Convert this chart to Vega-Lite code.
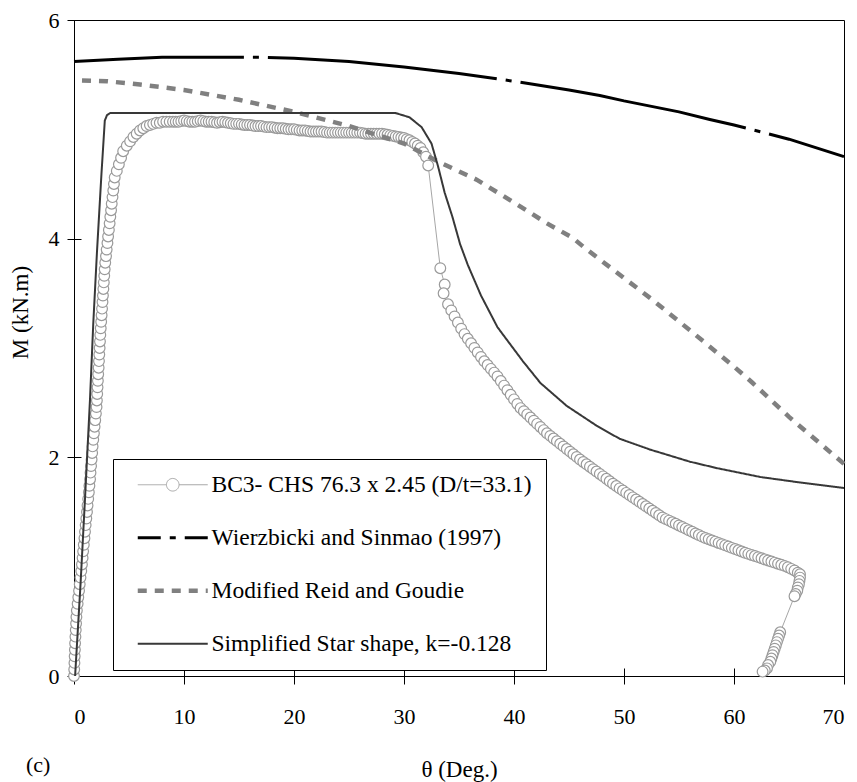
{
"$schema": "https://vega.github.io/schema/vega-lite/v6.json",
"width": 770, "height": 656,
"autosize": {"type": "none"},
"padding": {"left": 74, "top": 20, "right": 13, "bottom": 106},
"background": "white",
"view": {"stroke": "black", "strokeWidth": 1},
"config": {
  "font": "Liberation Serif",
  "axis": {"domainColor": "black", "tickColor": "black", "labelColor": "black", "titleColor": "black", "labelFont": "Liberation Serif", "titleFont": "Liberation Serif", "labelFontSize": 22, "titleFontSize": 23, "titleFontWeight": "normal", "grid": false, "domainWidth": 1, "tickWidth": 1},
  "legend": {"labelFont": "Liberation Serif"}
},
"resolve": {"axis": {"x": "independent", "y": "independent"}},
"title": {"text": "(c)", "orient": "bottom", "anchor": "start", "frame": "group", "dx": -48, "offset": -26, "font": "Liberation Serif", "fontSize": 22, "fontWeight": "normal", "color": "black"},
"datasets": {
  "exp": [
    {"x":0,"m":0},{"x":0.02,"m":0.06},{"x":0.04,"m":0.12},{"x":0.06,"m":0.18},{"x":0.08,"m":0.24},{"x":0.1,"m":0.3},{"x":0.13,"m":0.36},{"x":0.16,"m":0.42},{"x":0.19,"m":0.48},{"x":0.22,"m":0.54},{"x":0.26,"m":0.6},{"x":0.33,"m":0.66},{"x":0.39,"m":0.72},{"x":0.46,"m":0.78},{"x":0.52,"m":0.84},{"x":0.59,"m":0.9},{"x":0.66,"m":0.96},{"x":0.72,"m":1.02},{"x":0.78,"m":1.08},{"x":0.83,"m":1.14},{"x":0.89,"m":1.2},{"x":0.95,"m":1.26},{"x":1.0,"m":1.32},{"x":1.06,"m":1.38},{"x":1.12,"m":1.44},{"x":1.18,"m":1.5},{"x":1.23,"m":1.56},{"x":1.29,"m":1.62},{"x":1.35,"m":1.68},{"x":1.4,"m":1.74},{"x":1.46,"m":1.8},{"x":1.5,"m":1.86},{"x":1.55,"m":1.92},{"x":1.6,"m":1.98},{"x":1.65,"m":2.04},{"x":1.69,"m":2.1},{"x":1.75,"m":2.16},{"x":1.81,"m":2.22},{"x":1.87,"m":2.28},{"x":1.93,"m":2.34},{"x":1.99,"m":2.4},{"x":2.05,"m":2.46},{"x":2.08,"m":2.52},{"x":2.11,"m":2.58},{"x":2.14,"m":2.64},{"x":2.17,"m":2.7},{"x":2.2,"m":2.76},{"x":2.24,"m":2.82},{"x":2.27,"m":2.88},{"x":2.3,"m":2.94},{"x":2.33,"m":3.0},{"x":2.36,"m":3.06},{"x":2.39,"m":3.12},{"x":2.43,"m":3.18},{"x":2.47,"m":3.24},{"x":2.51,"m":3.3},{"x":2.55,"m":3.36},{"x":2.59,"m":3.42},{"x":2.63,"m":3.48},{"x":2.67,"m":3.54},{"x":2.71,"m":3.6},{"x":2.75,"m":3.66},{"x":2.79,"m":3.72},{"x":2.84,"m":3.78},{"x":2.91,"m":3.84},{"x":2.97,"m":3.9},{"x":3.04,"m":3.96},{"x":3.1,"m":4.02},{"x":3.17,"m":4.08},{"x":3.24,"m":4.14},{"x":3.3,"m":4.2},{"x":3.37,"m":4.26},{"x":3.43,"m":4.32},{"x":3.5,"m":4.38},{"x":3.57,"m":4.44},{"x":3.63,"m":4.5},{"x":3.7,"m":4.56},{"x":3.89,"m":4.62},{"x":4.08,"m":4.68},{"x":4.28,"m":4.74},{"x":4.47,"m":4.8},
    {"x":4.8,"m":4.85},{"x":5.1,"m":4.89},{"x":5.4,"m":4.93},{"x":5.7,"m":4.96},{"x":6.0,"m":4.99},{"x":6.3,"m":5.01},{"x":6.6,"m":5.03},{"x":6.9,"m":5.04},{"x":7.2,"m":5.05},{"x":7.5,"m":5.06},{"x":7.8,"m":5.06},{"x":8.1,"m":5.07},{"x":8.4,"m":5.07},{"x":8.7,"m":5.07},
    {"x":9.0,"m":5.07},{"x":9.25,"m":5.07},{"x":9.5,"m":5.07},{"x":9.75,"m":5.075},{"x":10,"m":5.08},{"x":10.25,"m":5.075},{"x":10.5,"m":5.07},{"x":10.75,"m":5.07},{"x":11,"m":5.07},{"x":11.25,"m":5.075},{"x":11.5,"m":5.08},{"x":11.75,"m":5.075},{"x":12,"m":5.07},{"x":12.25,"m":5.07},{"x":12.5,"m":5.07},{"x":12.75,"m":5.065},{"x":13,"m":5.06},{"x":13.25,"m":5.065},{"x":13.5,"m":5.07},{"x":13.75,"m":5.065},{"x":14,"m":5.06},{"x":14.25,"m":5.055},{"x":14.5,"m":5.05},{"x":14.75,"m":5.05},{"x":15,"m":5.05},{"x":15.25,"m":5.045},{"x":15.5,"m":5.04},{"x":15.75,"m":5.04},{"x":16,"m":5.04},{"x":16.25,"m":5.035},{"x":16.5,"m":5.03},{"x":16.75,"m":5.03},{"x":17,"m":5.03},{"x":17.25,"m":5.025},{"x":17.5,"m":5.02},{"x":17.75,"m":5.02},{"x":18,"m":5.02},{"x":18.25,"m":5.015},{"x":18.5,"m":5.01},{"x":18.75,"m":5.01},{"x":19,"m":5.01},{"x":19.25,"m":5.005},{"x":19.5,"m":5.0},{"x":19.75,"m":5.0},{"x":20,"m":5.0},{"x":20.25,"m":4.995},{"x":20.5,"m":4.99},{"x":20.75,"m":4.99},{"x":21,"m":4.99},{"x":21.25,"m":4.985},{"x":21.5,"m":4.98},{"x":21.75,"m":4.98},{"x":22,"m":4.98},{"x":22.25,"m":4.98},{"x":22.5,"m":4.98},{"x":22.75,"m":4.975},{"x":23,"m":4.97},{"x":23.25,"m":4.97},{"x":23.5,"m":4.97},{"x":23.75,"m":4.97},{"x":24,"m":4.97},{"x":24.25,"m":4.97},{"x":24.5,"m":4.97},{"x":24.75,"m":4.97},{"x":25,"m":4.97},{"x":25.25,"m":4.97},{"x":25.5,"m":4.97},{"x":25.75,"m":4.97},{"x":26,"m":4.97},{"x":26.25,"m":4.965},{"x":26.5,"m":4.96},{"x":26.75,"m":4.96},{"x":27,"m":4.96},{"x":27.25,"m":4.96},{"x":27.5,"m":4.96},{"x":27.75,"m":4.96},{"x":28,"m":4.96},{"x":28.25,"m":4.955},{"x":28.5,"m":4.95},{"x":28.75,"m":4.945},{"x":29,"m":4.94},{"x":29.25,"m":4.935},{"x":29.5,"m":4.93},{"x":29.75,"m":4.925},{"x":30,"m":4.92},{"x":30.25,"m":4.91},{"x":30.5,"m":4.9},{"x":30.75,"m":4.885},{"x":31,"m":4.87},{"x":31.25,"m":4.85},{"x":31.5,"m":4.83},{"x":31.75,"m":4.79},{"x":32,"m":4.75},{"x":32.2,"m":4.67},
    {"x":33.3,"m":3.73},{"x":33.7,"m":3.58},{"x":33.6,"m":3.5},
    {"x":34.0,"m":3.4},{"x":34.3,"m":3.344},{"x":34.6,"m":3.289},{"x":34.9,"m":3.233},{"x":35.2,"m":3.177},{"x":35.5,"m":3.127},{"x":35.8,"m":3.084},{"x":36.1,"m":3.043},{"x":36.4,"m":3.001},{"x":36.7,"m":2.959},{"x":37.0,"m":2.918},{"x":37.3,"m":2.878},{"x":37.6,"m":2.844},{"x":37.9,"m":2.809},{"x":38.2,"m":2.775},{"x":38.5,"m":2.74},{"x":38.8,"m":2.698},{"x":39.1,"m":2.656},{"x":39.4,"m":2.614},{"x":39.7,"m":2.572},{"x":40.0,"m":2.53},{"x":40.3,"m":2.488},{"x":40.6,"m":2.45},{"x":40.9,"m":2.422},{"x":41.2,"m":2.393},{"x":41.5,"m":2.364},{"x":41.8,"m":2.335},{"x":42.1,"m":2.306},{"x":42.4,"m":2.278},{"x":42.7,"m":2.249},{"x":43.0,"m":2.22},{"x":43.3,"m":2.196},{"x":43.6,"m":2.172},{"x":43.9,"m":2.148},{"x":44.2,"m":2.124},{"x":44.5,"m":2.1},{"x":44.8,"m":2.076},{"x":45.1,"m":2.052},{"x":45.4,"m":2.028},{"x":45.7,"m":2.004},{"x":46.0,"m":1.98},{"x":46.3,"m":1.958},{"x":46.6,"m":1.936},{"x":46.9,"m":1.914},{"x":47.2,"m":1.892},{"x":47.5,"m":1.87},{"x":47.8,"m":1.848},{"x":48.1,"m":1.826},{"x":48.4,"m":1.804},{"x":48.7,"m":1.781},{"x":49.0,"m":1.759},{"x":49.3,"m":1.737},{"x":49.6,"m":1.716},{"x":49.9,"m":1.696},{"x":50.2,"m":1.675},{"x":50.5,"m":1.655},{"x":50.8,"m":1.634},{"x":51.1,"m":1.614},{"x":51.4,"m":1.593},{"x":51.7,"m":1.573},{"x":52.0,"m":1.552},{"x":52.3,"m":1.532},{"x":52.6,"m":1.511},{"x":52.9,"m":1.491},{"x":53.2,"m":1.47},{"x":53.5,"m":1.45},{"x":53.8,"m":1.435},{"x":54.1,"m":1.421},{"x":54.4,"m":1.406},{"x":54.7,"m":1.392},{"x":55.0,"m":1.377},{"x":55.3,"m":1.362},{"x":55.6,"m":1.348},{"x":55.9,"m":1.333},{"x":56.2,"m":1.319},{"x":56.5,"m":1.304},{"x":56.8,"m":1.289},{"x":57.1,"m":1.275},{"x":57.4,"m":1.262},{"x":57.7,"m":1.251},{"x":58.0,"m":1.24},{"x":58.3,"m":1.229},{"x":58.6,"m":1.217},{"x":58.9,"m":1.206},{"x":59.2,"m":1.195},{"x":59.5,"m":1.184},{"x":59.8,"m":1.172},{"x":60.1,"m":1.161},{"x":60.4,"m":1.15},{"x":60.7,"m":1.139},{"x":61.0,"m":1.127},{"x":61.3,"m":1.117},{"x":61.6,"m":1.107},{"x":61.9,"m":1.097},{"x":62.2,"m":1.087},{"x":62.5,"m":1.077},{"x":62.8,"m":1.067},{"x":63.1,"m":1.057},{"x":63.4,"m":1.047},{"x":63.7,"m":1.037},{"x":64.0,"m":1.027},{"x":64.3,"m":1.017},{"x":64.6,"m":1.007},{"x":64.9,"m":0.995},{"x":65.2,"m":0.98},{"x":65.5,"m":0.965},{"x":65.8,"m":0.945},{"x":66.0,"m":0.93},
    {"x":66.0,"m":0.9},{"x":65.95,"m":0.87},{"x":65.9,"m":0.84},{"x":65.8,"m":0.81},{"x":65.75,"m":0.78},{"x":65.6,"m":0.75},{"x":65.5,"m":0.73},
    {"x":64.2,"m":0.4},{"x":64.1,"m":0.37},{"x":64.0,"m":0.34},{"x":63.9,"m":0.31},{"x":63.8,"m":0.28},{"x":63.7,"m":0.25},{"x":63.6,"m":0.22},{"x":63.5,"m":0.19},{"x":63.4,"m":0.16},{"x":63.3,"m":0.13},{"x":63.1,"m":0.1},{"x":63.0,"m":0.07},{"x":62.8,"m":0.05},{"x":62.6,"m":0.04}
  ],
  "curves": [
    {"s":"Wierzbicki and Sinmao (1997)","x":0,"m":5.62},{"s":"Wierzbicki and Sinmao (1997)","x":4,"m":5.64},{"s":"Wierzbicki and Sinmao (1997)","x":8,"m":5.66},{"s":"Wierzbicki and Sinmao (1997)","x":12,"m":5.66},{"s":"Wierzbicki and Sinmao (1997)","x":17,"m":5.66},{"s":"Wierzbicki and Sinmao (1997)","x":20,"m":5.65},{"s":"Wierzbicki and Sinmao (1997)","x":25,"m":5.62},{"s":"Wierzbicki and Sinmao (1997)","x":30,"m":5.57},{"s":"Wierzbicki and Sinmao (1997)","x":35,"m":5.51},{"s":"Wierzbicki and Sinmao (1997)","x":40,"m":5.44},{"s":"Wierzbicki and Sinmao (1997)","x":45,"m":5.36},{"s":"Wierzbicki and Sinmao (1997)","x":47.8,"m":5.31},{"s":"Wierzbicki and Sinmao (1997)","x":50,"m":5.26},{"s":"Wierzbicki and Sinmao (1997)","x":55,"m":5.16},{"s":"Wierzbicki and Sinmao (1997)","x":57.8,"m":5.09},{"s":"Wierzbicki and Sinmao (1997)","x":60,"m":5.04},{"s":"Wierzbicki and Sinmao (1997)","x":65,"m":4.91},{"s":"Wierzbicki and Sinmao (1997)","x":70,"m":4.75},
    {"s":"Modified Reid and Goudie","x":0,"m":5.45},{"s":"Modified Reid and Goudie","x":3,"m":5.44},{"s":"Modified Reid and Goudie","x":6,"m":5.41},{"s":"Modified Reid and Goudie","x":10,"m":5.36},{"s":"Modified Reid and Goudie","x":15,"m":5.27},{"s":"Modified Reid and Goudie","x":20,"m":5.16},{"s":"Modified Reid and Goudie","x":25,"m":5.03},{"s":"Modified Reid and Goudie","x":30,"m":4.87},{"s":"Modified Reid and Goudie","x":33,"m":4.71},{"s":"Modified Reid and Goudie","x":36.6,"m":4.54},{"s":"Modified Reid and Goudie","x":40,"m":4.33},{"s":"Modified Reid and Goudie","x":43,"m":4.14},{"s":"Modified Reid and Goudie","x":45.3,"m":4.01},{"s":"Modified Reid and Goudie","x":46.5,"m":3.91},{"s":"Modified Reid and Goudie","x":50,"m":3.64},{"s":"Modified Reid and Goudie","x":52.6,"m":3.44},{"s":"Modified Reid and Goudie","x":56.5,"m":3.12},{"s":"Modified Reid and Goudie","x":60,"m":2.83},{"s":"Modified Reid and Goudie","x":61.7,"m":2.68},{"s":"Modified Reid and Goudie","x":65,"m":2.37},{"s":"Modified Reid and Goudie","x":70,"m":1.94},
    {"s":"Simplified Star shape, k=-0.128","x":0.1,"m":0},{"s":"Simplified Star shape, k=-0.128","x":0.6,"m":0.85},{"s":"Simplified Star shape, k=-0.128","x":1.0,"m":1.62},{"s":"Simplified Star shape, k=-0.128","x":1.45,"m":2.52},{"s":"Simplified Star shape, k=-0.128","x":1.75,"m":3.22},{"s":"Simplified Star shape, k=-0.128","x":2.1,"m":3.9},{"s":"Simplified Star shape, k=-0.128","x":2.5,"m":4.6},{"s":"Simplified Star shape, k=-0.128","x":2.8,"m":5.08},{"s":"Simplified Star shape, k=-0.128","x":3.0,"m":5.13},{"s":"Simplified Star shape, k=-0.128","x":3.3,"m":5.15},{"s":"Simplified Star shape, k=-0.128","x":29.2,"m":5.15},{"s":"Simplified Star shape, k=-0.128","x":30.5,"m":5.11},{"s":"Simplified Star shape, k=-0.128","x":31.6,"m":5.02},{"s":"Simplified Star shape, k=-0.128","x":32.5,"m":4.87},{"s":"Simplified Star shape, k=-0.128","x":33.1,"m":4.66},{"s":"Simplified Star shape, k=-0.128","x":33.7,"m":4.42},{"s":"Simplified Star shape, k=-0.128","x":34.4,"m":4.2},{"s":"Simplified Star shape, k=-0.128","x":35.1,"m":3.95},{"s":"Simplified Star shape, k=-0.128","x":35.8,"m":3.76},{"s":"Simplified Star shape, k=-0.128","x":37.0,"m":3.48},{"s":"Simplified Star shape, k=-0.128","x":38.5,"m":3.19},{"s":"Simplified Star shape, k=-0.128","x":40.8,"m":2.88},{"s":"Simplified Star shape, k=-0.128","x":42.4,"m":2.68},{"s":"Simplified Star shape, k=-0.128","x":44.8,"m":2.47},{"s":"Simplified Star shape, k=-0.128","x":46,"m":2.39},{"s":"Simplified Star shape, k=-0.128","x":47.5,"m":2.29},{"s":"Simplified Star shape, k=-0.128","x":49.6,"m":2.17},{"s":"Simplified Star shape, k=-0.128","x":52.4,"m":2.07},{"s":"Simplified Star shape, k=-0.128","x":56,"m":1.96},{"s":"Simplified Star shape, k=-0.128","x":58.5,"m":1.9},{"s":"Simplified Star shape, k=-0.128","x":62.4,"m":1.82},{"s":"Simplified Star shape, k=-0.128","x":66,"m":1.77},{"s":"Simplified Star shape, k=-0.128","x":70,"m":1.72}
  ]
},
"layer": [
  {
    "data": {"name": "exp"},
    "mark": {"type": "line", "clip": false, "stroke": "#a6a6a6", "strokeWidth": 1},
    "encoding": {
      "x": {"field": "x", "type": "quantitative", "scale": {"domain": [0, 70], "nice": false}, "axis": {"orient": "bottom", "values": [0,10,20,30,40,50,60,70], "format": "d", "title": "θ (Deg.)", "tickSize": 8, "labelPadding": 22, "titlePadding": 31}},
      "y": {"field": "m", "type": "quantitative", "scale": {"domain": [0, 6], "nice": false}, "axis": {"orient": "left", "values": [0,2,4,6], "format": "d", "title": "M (kN.m)", "tickSize": 7, "labelPadding": 8, "titleX": -54, "titleY": 292, "titleBaseline": "middle"}},
      "order": {"value": null}
    }
  },
  {
    "data": {"name": "exp"},
    "mark": {"type": "point", "shape": "circle", "filled": true, "fill": "white", "stroke": "#9a9a9a", "strokeWidth": 1.2, "size": 115, "opacity": 1, "clip": false},
    "encoding": {
      "x": {"field": "x", "type": "quantitative", "axis": {"orient": "bottom", "values": [0,10,20,30,40,50,60,70], "tickSize": -8, "labels": false, "domain": false, "title": null, "grid": false}},
      "y": {"field": "m", "type": "quantitative", "axis": {"orient": "left", "values": [0,2,4,6], "tickSize": -7, "labels": false, "domain": false, "title": null, "grid": false}}
    }
  },
  {
    "data": {"name": "curves"},
    "mark": {"type": "line", "clip": false, "strokeDashOffset": 60},
    "encoding": {
      "x": {"field": "x", "type": "quantitative", "axis": null},
      "y": {"field": "m", "type": "quantitative", "axis": null},
      "color": {"field": "s", "type": "nominal",
        "scale": {"domain": ["BC3- CHS 76.3 x 2.45 (D/t=33.1)", "Wierzbicki and Sinmao (1997)", "Modified Reid and Goudie", "Simplified Star shape, k=-0.128"], "range": ["#a6a6a6", "#000000", "#808080", "#383838"]},
        "legend": {"orient": "none", "legendX": 39, "legendY": 439, "title": null, "strokeColor": "black", "fillColor": "white", "padding": 14, "symbolType": "M-5,0H5", "symbolSize": 196, "symbolOffset": 34, "labelOffset": 27, "labelFont": "Liberation Serif", "labelFontSize": 23.5, "labelColor": "black", "labelLimit": 600, "rowPadding": 28,
          "encode": {"symbols": {"update": {
            "shape": {"signal": "datum.value == 'BC3- CHS 76.3 x 2.45 (D/t=33.1)' ? 'M-5,0H-0.9M0.9,0H5M0.9,0A0.9,0.9,0,1,1,-0.9,0A0.9,0.9,0,1,1,0.9,0' : 'M-5,0H5'"},
            "strokeDashOffset": {"signal": "datum.value == 'Wierzbicki and Sinmao (1997)' ? 207 : 0"},
            "strokeWidth": {"signal": "datum.value == 'Wierzbicki and Sinmao (1997)' ? 3.5 : datum.value == 'Modified Reid and Goudie' ? 5 : datum.value == 'Simplified Star shape, k=-0.128' ? 2.5 : 1.2"},
            "fill": {"value": "white"},
            "fillOpacity": {"value": 1},
            "opacity": {"value": 1}
          }}}}},
      "strokeDash": {"field": "s", "type": "nominal", "legend": null,
        "scale": {"domain": ["BC3- CHS 76.3 x 2.45 (D/t=33.1)", "Wierzbicki and Sinmao (1997)", "Modified Reid and Goudie", "Simplified Star shape, k=-0.128"], "range": [[1,0], [230,9,6,9], [9,8], [1,0]]}},
      "strokeWidth": {"field": "s", "type": "nominal", "legend": null,
        "scale": {"type": "ordinal", "domain": ["BC3- CHS 76.3 x 2.45 (D/t=33.1)", "Wierzbicki and Sinmao (1997)", "Modified Reid and Goudie", "Simplified Star shape, k=-0.128"], "range": [1, 3, 4.5, 2]}}
    }
  }
]
}
